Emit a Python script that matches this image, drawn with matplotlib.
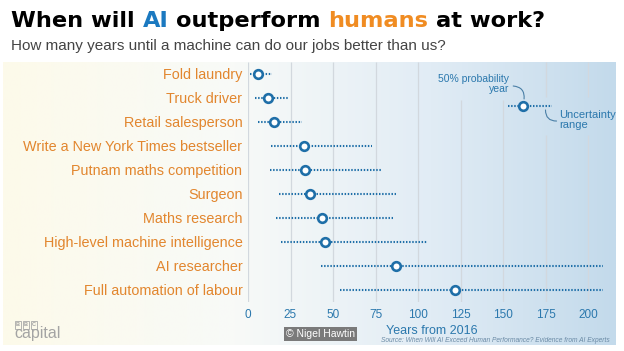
import numpy as np
import matplotlib.pyplot as plt
from matplotlib.colors import LinearSegmentedColormap

plt.rcParams['font.family'] = ['Liberation Sans', 'DejaVu Sans']

# survey answers, years from 2016
jobs = ['Fold laundry', 'Truck driver', 'Retail salesperson',
        'Write a New York Times bestseller', 'Putnam maths competition',
        'Surgeon', 'Maths research', 'High-level machine intelligence',
        'AI researcher', 'Full automation of labour']
median = [6, 12, 15, 33, 33.5, 36.5, 43.5, 45, 87, 122]
low = [1, 4, 6, 13.5, 13, 18, 16.5, 19.5, 43, 54]
high = [14, 23.5, 32, 73, 78, 87, 85, 105, 209, 209]
ticks = [0, 25, 50, 75, 100, 125, 150, 175, 200]

# the little key in the top right
key_median, key_low, key_high = 162, 153, 179

blue = '#1f6fa8'
orange = '#e2862e'
grid = '#d2d8de'

fig = plt.figure(figsize=(6.24, 3.51), dpi=100)

# gradient background, cream on the left to blue on the right
bg = fig.add_axes([0.005, 1 - 345/351, 0.981, (345 - 62)/351])
cmap = LinearSegmentedColormap.from_list(
    'bg', [(0, '#fdfaea'), (0.38, '#f8faf8'), (0.7, '#e1ecf5'), (1, '#c3daeb')])
bg.imshow(np.linspace(0, 1, 256)[None, :], aspect='auto', cmap=cmap,
          extent=[0, 1, 0, 1])
bg.axis('off')

ax = fig.add_axes([248/624, 1 - 302/351, (614 - 248)/624, 240/351])
ax.set_facecolor('none')
ax.set_xlim(0, (614 - 248)/1.70)
ax.set_ylim(9.5, -0.5)
for s in ax.spines.values():
    s.set_visible(False)

# grid, broken where the key sits
gaps = {125: (-0.5, 1.08), 150: (-0.5, 1.08), 175: (0.96, 2.54), 200: (0.96, 2.54)}
for t in ticks:
    if t in gaps:
        a, b = gaps[t]
        ax.vlines(t, -0.5, a, color=grid, lw=0.9, zorder=0)
        ax.vlines(t, b, 9.5, color=grid, lw=0.9, zorder=0)
    else:
        ax.vlines(t, -0.5, 9.5, color=grid, lw=0.9, zorder=0)

y = np.arange(len(jobs))
ax.hlines(y, low, high, color=blue, lw=1.5, linestyles=(0, (0.7, 0.8)), zorder=2)
ax.plot(median, y, 'o', ms=6.2, mfc='white', mec=blue, mew=1.9, zorder=3)

ky = 1.33
ax.hlines(ky, key_low, key_high, color=blue, lw=1.5, linestyles=(0, (0.7, 0.8)), zorder=2)
ax.plot(key_median, ky, 'o', ms=6.2, mfc='white', mec=blue, mew=1.9, zorder=3)
ax.text(153.5, 0.42, '50% probability\nyear', ha='right', va='center',
        fontsize=7.5, color='#2b78ad', linespacing=1.05)
ax.text(183, 1.92, 'Uncertainty\nrange', ha='left', va='center',
        fontsize=8, color='#2b78ad', linespacing=1.05)
ax.annotate('', xy=(162.4, 1.04), xytext=(156, 0.5),
            arrowprops=dict(arrowstyle='-', connectionstyle='arc3,rad=-0.5',
                            color='#4a7fa6', lw=0.8, shrinkA=0, shrinkB=0))
ax.annotate('', xy=(181.5, 1.96), xytext=(175, 1.5),
            arrowprops=dict(arrowstyle='-', connectionstyle='arc3,rad=0.5',
                            color='#4a7fa6', lw=0.8, shrinkA=0, shrinkB=0))

ax.set_xticks(ticks)
ax.set_yticks(y)
ax.set_yticklabels(jobs)
ax.tick_params(axis='x', length=0, colors='#2b78ad', labelsize=8.5, pad=5)
ax.tick_params(axis='y', length=0, colors=orange, labelsize=10.4, pad=4)

fig.text(432/624, 1 - 331/351, 'Years from 2016', ha='center', va='center',
         fontsize=9, color='#2b78ad')

# title with coloured words
renderer = fig.canvas.get_renderer()
def width(s, **kw):
    t = fig.text(0, 0, s, **kw)
    w = t.get_window_extent(renderer).width
    t.remove()
    return w

tkw = dict(fontsize=16.2, fontweight='bold', family='DejaVu Sans')
space = width('A A', **tkw) - width('AA', **tkw)
x = 11
for word, c in [('When will', 'black'), ('AI', '#1b79c0'), ('outperform', 'black'),
                ('humans', '#f08c22'), ('at work?', 'black')]:
    fig.text(x/624, 1 - 27/351, word, color=c, va='baseline', **tkw)
    x += width(word, **tkw) + space

fig.text(11/624, 1 - 50/351, 'How many years until a machine can do our jobs better than us?',
         fontsize=11, color='#444444', va='baseline')

# footer
for i, ch in enumerate('BBC'):
    fig.text((18 + i*8)/624, 1 - 325/351, ch, fontsize=4, color='#a0a0a0',
             ha='center', va='center', fontweight='bold',
             bbox=dict(boxstyle='square,pad=0.2', fc='none', ec='#a8a8a8', lw=0.6))
fig.text(14/624, 1 - 338/351, 'capital', fontsize=11.5, color='#a4a4a4',
         va='baseline')
fig.text(286/624, 1 - 334/351, '© Nigel Hawtin', fontsize=7.5, color='white',
         va='center', bbox=dict(fc='#7a7a7a', ec='none', pad=1.5))
fig.text(610/624, 1 - 340/351,
         'Source: When Will AI Exceed Human Performance? Evidence from AI Experts',
         ha='right', va='center', fontsize=4.8, style='italic', color='#6a8aa5')

fig.savefig('out.png', dpi=100)
